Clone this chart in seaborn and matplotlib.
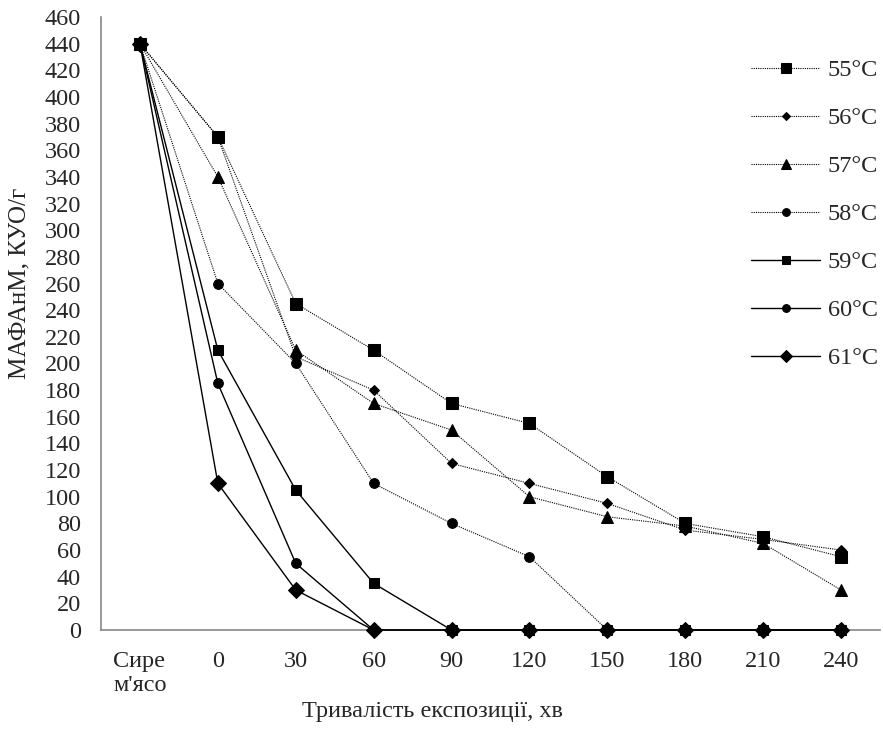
import pandas as pd
import seaborn as sns
import matplotlib.pyplot as plt
from matplotlib.ticker import MultipleLocator, FixedLocator

# categories on the x axis
categories = ['Сире\nм\'ясо', '0', '30', '60', '90', '120', '150', '180', '210', '240']

# colony counts per temperature
t55 = [440, 370, 245, 210, 170, 155, 115, 80, 70, 55]
t56 = [440, 370, 205, 180, 125, 110, 95, 75, 68, 60]
t57 = [440, 340, 210, 170, 150, 100, 85, 78, 65, 30]
t58 = [440, 260, 200, 110, 80, 55, 0, 0, 0, 0]
t59 = [440, 210, 105, 35, 0, 0, 0, 0, 0, 0]
t60 = [440, 185, 50, 0, 0, 0, 0, 0, 0, 0]
t61 = [440, 110, 30, 0, 0, 0, 0, 0, 0, 0]

series = {
    '55°C': t55, '56°C': t56, '57°C': t57, '58°C': t58,
    '59°C': t59, '60°C': t60, '61°C': t61,
}

# marker / line style per series
styles = {
    '55°C': dict(marker='s', ms=8.5, ls=(0, (1, 1)), lw=0.8),
    '56°C': dict(marker='D', ms=5, ls=(0, (1, 1)), lw=0.8),
    '57°C': dict(marker='^', ms=8.5, ls=(0, (1, 1)), lw=0.8),
    '58°C': dict(marker='o', ms=7, ls=(0, (1, 1)), lw=0.8),
    '59°C': dict(marker='s', ms=7.5, ls='-', lw=1.0),
    '60°C': dict(marker='o', ms=7, ls='-', lw=1.0),
    '61°C': dict(marker='D', ms=8, ls='-', lw=1.0),
}

rows = []
for name, vals in series.items():
    for i, v in enumerate(vals):
        rows.append({'pos': i, 'value': v, 'temp': name})
df = pd.DataFrame(rows)

sns.set_style('white')
plt.rcParams['font.family'] = ['Liberation Serif', 'DejaVu Serif']
fs = 17.5

fig = plt.figure(figsize=(8.83, 7.38), dpi=100)
ax = fig.add_axes([0.1144, 0.1463, 0.8822, 0.8307])

order = ['56°C', '55°C', '57°C', '58°C', '59°C', '60°C', '61°C']
for name in order:
    st = styles[name]
    sns.lineplot(data=df[df['temp'] == name], x='pos', y='value', ax=ax,
                 color='black', marker=st['marker'], markersize=st['ms'],
                 markeredgecolor='black', markerfacecolor='black',
                 linestyle=st['ls'], linewidth=st['lw'], label=name,
                 estimator=None, clip_on=False, zorder=3)

ax.set_xlim(-0.5, len(categories) - 0.5)
ax.set_ylim(0, 460)
ax.yaxis.set_major_locator(MultipleLocator(20))

ax.xaxis.set_major_locator(FixedLocator([i - 0.5 for i in range(len(categories) + 1)]))
ax.xaxis.set_minor_locator(FixedLocator(list(range(len(categories)))))
ax.set_xticklabels([])
ax.set_xticklabels(categories, minor=True)
for lbl in ax.get_xticklabels(minor=True):
    lbl.set_horizontalalignment('center')
    lbl.set_multialignment('left')
ax.tick_params(axis='x', which='major', direction='out', length=5.5, width=1, color='#868686')
ax.tick_params(axis='x', which='minor', length=0, pad=15, labelsize=fs)
ax.tick_params(axis='y', direction='out', length=4.5, width=1, color='#868686', labelsize=fs, pad=10)

for side in ['top', 'right']:
    ax.spines[side].set_visible(False)
for side in ['left', 'bottom']:
    ax.spines[side].set_color('#868686')
    ax.spines[side].set_linewidth(1.2)

ax.set_xlabel('')
ax.set_ylabel('МАФАнМ, КУО/г', fontsize=18)
ax.yaxis.set_label_coords(-0.091, 0.566)
fig.text(432 / 883, 1 - 712 / 738, 'Тривалість експозиції, хв', fontsize=fs,
         ha='center', va='center')

handles, labels = ax.get_legend_handles_labels()
lookup = dict(zip(labels, handles))
names = list(series.keys())
ax.legend([lookup[n] for n in names], names, loc='upper left',
          bbox_to_anchor=(751 / 883, 1 - 59 / 738), bbox_transform=fig.transFigure,
          frameon=False, fontsize=fs, handlelength=2.85, labelspacing=1.07,
          handletextpad=0.3, borderpad=0, borderaxespad=0, markerscale=0.8)

fig.savefig('out.png', dpi=100)
